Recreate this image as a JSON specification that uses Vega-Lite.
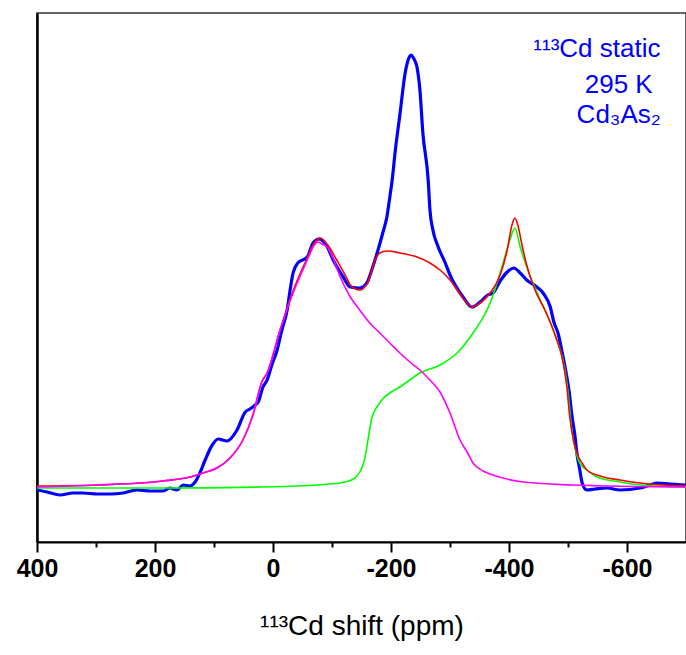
{
  "$schema": "https://vega.github.io/schema/vega-lite/v6.json",
  "width": 649,
  "height": 529,
  "autosize": {"type": "none"},
  "padding": {"left": 37, "top": 13, "right": 0, "bottom": 113},
  "background": "white",
  "config": {
    "view": {"stroke": "#333333", "strokeWidth": 1.5},
    "font": "Liberation Sans"
  },
  "datasets": {
    "exp": [
      {"ppm": 400, "I": -3}, {"ppm": 383, "I": -5}, {"ppm": 361, "I": -8}, {"ppm": 339, "I": -6},
      {"ppm": 322, "I": -6}, {"ppm": 298, "I": -7}, {"ppm": 276, "I": -7}, {"ppm": 254, "I": -6},
      {"ppm": 231, "I": -3}, {"ppm": 208, "I": -4}, {"ppm": 186, "I": -4}, {"ppm": 175, "I": -1},
      {"ppm": 163, "I": -3}, {"ppm": 152, "I": 2}, {"ppm": 141, "I": 1}, {"ppm": 132, "I": 5},
      {"ppm": 124, "I": 14}, {"ppm": 115, "I": 27}, {"ppm": 103, "I": 42}, {"ppm": 93, "I": 48},
      {"ppm": 78, "I": 46}, {"ppm": 61, "I": 57}, {"ppm": 47, "I": 75}, {"ppm": 39, "I": 78},
      {"ppm": 30, "I": 82}, {"ppm": 25, "I": 85}, {"ppm": 17, "I": 100}, {"ppm": 10, "I": 107},
      {"ppm": 2, "I": 122}, {"ppm": -7, "I": 137}, {"ppm": -15, "I": 157}, {"ppm": -24, "I": 177},
      {"ppm": -29, "I": 197}, {"ppm": -34, "I": 214}, {"ppm": -42, "I": 224}, {"ppm": -58, "I": 230},
      {"ppm": -68, "I": 244}, {"ppm": -78, "I": 248}, {"ppm": -92, "I": 240}, {"ppm": -102, "I": 227},
      {"ppm": -119, "I": 210}, {"ppm": -131, "I": 200}, {"ppm": -147, "I": 199}, {"ppm": -159, "I": 204},
      {"ppm": -169, "I": 220}, {"ppm": -178, "I": 237}, {"ppm": -186, "I": 254}, {"ppm": -193, "I": 270},
      {"ppm": -198, "I": 290}, {"ppm": -202, "I": 307}, {"ppm": -207, "I": 335},
      {"ppm": -215, "I": 372}, {"ppm": -224, "I": 414}, {"ppm": -229, "I": 427}, {"ppm": -234, "I": 432},
      {"ppm": -239, "I": 428}, {"ppm": -244, "I": 420}, {"ppm": -249, "I": 397}, {"ppm": -254, "I": 354},
      {"ppm": -263, "I": 307}, {"ppm": -266, "I": 277}, {"ppm": -271, "I": 257}, {"ppm": -280, "I": 240},
      {"ppm": -292, "I": 224}, {"ppm": -300, "I": 212}, {"ppm": -322, "I": 190}, {"ppm": -337, "I": 180},
      {"ppm": -351, "I": 185}, {"ppm": -364, "I": 192}, {"ppm": -373, "I": 194}, {"ppm": -385, "I": 206},
      {"ppm": -397, "I": 215}, {"ppm": -408, "I": 219}, {"ppm": -419, "I": 214}, {"ppm": -430, "I": 207},
      {"ppm": -447, "I": 200}, {"ppm": -459, "I": 193}, {"ppm": -470, "I": 180}, {"ppm": -476, "I": 165},
      {"ppm": -483, "I": 154}, {"ppm": -490, "I": 135}, {"ppm": -495, "I": 120}, {"ppm": -502, "I": 95},
      {"ppm": -507, "I": 70}, {"ppm": -512, "I": 50}, {"ppm": -515, "I": 34}, {"ppm": -520, "I": 17},
      {"ppm": -524, "I": 4}, {"ppm": -532, "I": -3}, {"ppm": -546, "I": -2}, {"ppm": -566, "I": -1},
      {"ppm": -588, "I": -3}, {"ppm": -622, "I": -1}, {"ppm": -639, "I": 2}, {"ppm": -651, "I": 4},
      {"ppm": -673, "I": 3}, {"ppm": -700, "I": 2}
    ],
    "sum": [
      {"ppm": 400, "I": 1}, {"ppm": 298, "I": 2}, {"ppm": 186, "I": 6}, {"ppm": 141, "I": 10},
      {"ppm": 119, "I": 14}, {"ppm": 95, "I": 19}, {"ppm": 73, "I": 29}, {"ppm": 51, "I": 47},
      {"ppm": 34, "I": 72}, {"ppm": 19, "I": 105}, {"ppm": 10, "I": 114}, {"ppm": -12, "I": 157},
      {"ppm": -34, "I": 196}, {"ppm": -58, "I": 229}, {"ppm": -68, "I": 242}, {"ppm": -80, "I": 249},
      {"ppm": -93, "I": 242}, {"ppm": -108, "I": 227}, {"ppm": -125, "I": 209}, {"ppm": -131, "I": 202},
      {"ppm": -147, "I": 197}, {"ppm": -161, "I": 205}, {"ppm": -173, "I": 227}, {"ppm": -181, "I": 234},
      {"ppm": -193, "I": 236}, {"ppm": -215, "I": 234}, {"ppm": -244, "I": 230}, {"ppm": -266, "I": 224},
      {"ppm": -283, "I": 217}, {"ppm": -300, "I": 207}, {"ppm": -317, "I": 193},
      {"ppm": -329, "I": 184}, {"ppm": -337, "I": 180}, {"ppm": -351, "I": 184}, {"ppm": -368, "I": 194},
      {"ppm": -385, "I": 212}, {"ppm": -397, "I": 237}, {"ppm": -405, "I": 262}, {"ppm": -410, "I": 269},
      {"ppm": -415, "I": 262}, {"ppm": -422, "I": 242}, {"ppm": -430, "I": 222}, {"ppm": -444, "I": 197},
      {"ppm": -461, "I": 177}, {"ppm": -478, "I": 152}, {"ppm": -492, "I": 124}, {"ppm": -498, "I": 100},
      {"ppm": -503, "I": 70}, {"ppm": -510, "I": 45}, {"ppm": -515, "I": 34}, {"ppm": -524, "I": 24},
      {"ppm": -532, "I": 17}, {"ppm": -554, "I": 11}, {"ppm": -588, "I": 7}, {"ppm": -622, "I": 4},
      {"ppm": -700, "I": 1}
    ],
    "c1": [
      {"ppm": 400, "I": 0}, {"ppm": 298, "I": 2}, {"ppm": 186, "I": 6}, {"ppm": 141, "I": 10},
      {"ppm": 119, "I": 14}, {"ppm": 95, "I": 19}, {"ppm": 73, "I": 29}, {"ppm": 51, "I": 47},
      {"ppm": 34, "I": 72}, {"ppm": 19, "I": 105}, {"ppm": 10, "I": 114}, {"ppm": -12, "I": 157},
      {"ppm": -34, "I": 194}, {"ppm": -58, "I": 227}, {"ppm": -68, "I": 240}, {"ppm": -76, "I": 245},
      {"ppm": -83, "I": 243}, {"ppm": -92, "I": 240}, {"ppm": -102, "I": 228}, {"ppm": -114, "I": 210},
      {"ppm": -131, "I": 190}, {"ppm": -147, "I": 177}, {"ppm": -164, "I": 164}, {"ppm": -181, "I": 154},
      {"ppm": -198, "I": 144}, {"ppm": -215, "I": 134}, {"ppm": -232, "I": 125}, {"ppm": -249, "I": 117},
      {"ppm": -266, "I": 107}, {"ppm": -283, "I": 95}, {"ppm": -300, "I": 74}, {"ppm": -317, "I": 47},
      {"ppm": -329, "I": 35}, {"ppm": -339, "I": 24}, {"ppm": -356, "I": 16}, {"ppm": -373, "I": 12},
      {"ppm": -424, "I": 5}, {"ppm": -508, "I": 2}, {"ppm": -700, "I": 0}
    ],
    "c2": [
      {"ppm": 400, "I": -1}, {"ppm": 186, "I": -1}, {"ppm": 17, "I": 0}, {"ppm": -97, "I": 3},
      {"ppm": -122, "I": 5}, {"ppm": -139, "I": 9}, {"ppm": -147, "I": 15}, {"ppm": -154, "I": 25},
      {"ppm": -159, "I": 40}, {"ppm": -164, "I": 58}, {"ppm": -168, "I": 70}, {"ppm": -173, "I": 77},
      {"ppm": -181, "I": 84}, {"ppm": -186, "I": 88}, {"ppm": -198, "I": 94}, {"ppm": -215, "I": 100},
      {"ppm": -249, "I": 114}, {"ppm": -283, "I": 122}, {"ppm": -312, "I": 134}, {"ppm": -339, "I": 154},
      {"ppm": -368, "I": 184}, {"ppm": -390, "I": 224}, {"ppm": -402, "I": 248}, {"ppm": -410, "I": 259},
      {"ppm": -419, "I": 240}, {"ppm": -430, "I": 220}, {"ppm": -453, "I": 187}, {"ppm": -481, "I": 147},
      {"ppm": -495, "I": 117}, {"ppm": -500, "I": 95}, {"ppm": -507, "I": 54}, {"ppm": -514, "I": 34},
      {"ppm": -520, "I": 24}, {"ppm": -537, "I": 15}, {"ppm": -549, "I": 10}, {"ppm": -588, "I": 5},
      {"ppm": -622, "I": 2}, {"ppm": -700, "I": 0}
    ],
    "labels": [
      {"ppm": -549, "I": 430, "t": "¹¹³Cd static"},
      {"ppm": -586, "I": 394, "t": "295 K"},
      {"ppm": -586, "I": 364, "t": "Cd₃As₂"}
    ]
  },
  "encoding": {
    "x": {
      "field": "ppm", "type": "quantitative",
      "scale": {"domain": [400, -700], "nice": false, "zero": false},
      "axis": {
        "title": "¹¹³Cd shift (ppm)",
        "titleFontSize": 28, "titleFontWeight": "normal", "titleColor": "black",
        "titlePadding": 31, "titleFont": "Liberation Sans",
        "values": [400, 300, 200, 100, 0, -100, -200, -300, -400, -500, -600],
        "labelExpr": "datum.value % 200 == 0 ? datum.value : ''",
        "labelFontSize": 25, "labelFontWeight": "bold", "labelColor": "black",
        "labelPadding": 4, "labelFlush": false, "labelOverlap": false,
        "domainColor": "black", "domainWidth": 2,
        "tickColor": "black", "tickWidth": 2,
        "tickSize": {"condition": {"test": "datum.value % 200 == 0", "value": 10}, "value": 5},
        "grid": false
      }
    },
    "y": {
      "field": "I", "type": "quantitative",
      "scale": {"domain": [-55, 474], "nice": false, "zero": false},
      "axis": {"title": null, "labels": false, "ticks": false, "grid": false, "domainColor": "black", "domainWidth": 2.5}
    }
  },
  "layer": [
    {"data": {"name": "exp"}, "mark": {"type": "line", "color": "#0000FF", "strokeWidth": 3.2, "interpolate": "monotone"}},
    {"data": {"name": "c2"}, "mark": {"type": "line", "color": "#00FF00", "strokeWidth": 1.6, "interpolate": "monotone"}},
    {"data": {"name": "sum"}, "mark": {"type": "line", "color": "#FF0000", "strokeWidth": 1.6, "interpolate": "monotone"}},
    {"data": {"name": "c1"}, "mark": {"type": "line", "color": "#FF00FF", "strokeWidth": 1.6, "interpolate": "monotone"}},
    {"data": {"name": "labels"}, "mark": {"type": "text", "color": "#0000FF", "fontSize": 26, "align": "center", "baseline": "alphabetic", "font": "Liberation Sans"},
     "encoding": {"text": {"field": "t"}}}
  ]
}
